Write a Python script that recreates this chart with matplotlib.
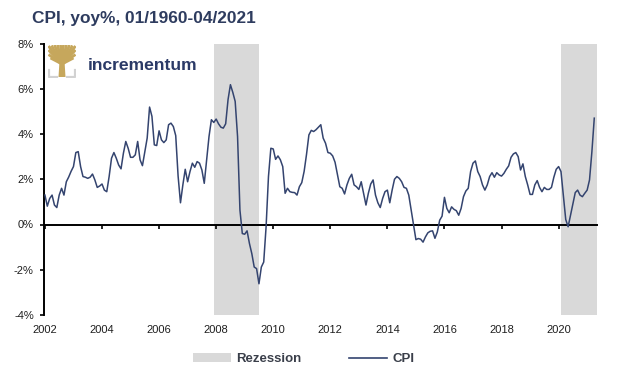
import matplotlib
matplotlib.use("Agg")
import matplotlib.pyplot as plt
from matplotlib.patches import Patch, Polygon
from matplotlib.lines import Line2D
import numpy as np

plt.rcParams['font.family'] = ['Liberation Sans', 'DejaVu Sans']

# ---------------- data ----------------
start_year = 2002
cpi_2002 = [1.30, 0.81, 1.15, 1.30, 0.86, 0.75, 1.30, 1.60, 1.30, 1.89, 2.10, 2.35]
cpi_2003 = [2.56, 3.18, 3.22, 2.56, 2.12, 2.09, 2.04, 2.09, 2.23, 1.97, 1.64, 1.70]
cpi_2004 = [1.79, 1.52, 1.45, 2.12, 2.93, 3.18, 2.93, 2.63, 2.46, 3.15, 3.67, 3.37]
cpi_2005 = [2.97, 2.97, 3.08, 3.67, 2.86, 2.60, 3.22, 3.82, 5.19, 4.78, 3.52, 3.49]
cpi_2006 = [4.14, 3.74, 3.62, 3.74, 4.41, 4.48, 4.33, 3.93, 2.14, 0.96, 1.75, 2.44]
cpi_2007 = [1.89, 2.34, 2.71, 2.53, 2.78, 2.71, 2.41, 1.82, 2.86, 3.89, 4.63, 4.51]
cpi_2008 = [4.66, 4.45, 4.30, 4.26, 4.45, 5.52, 6.18, 5.84, 5.44, 3.89, 0.64, -0.40]
cpi_2009 = [-0.43, -0.28, -0.84, -1.29, -1.88, -1.95, -2.62, -1.88, -1.66, -0.10, 2.12, 3.37]
cpi_2010 = [3.34, 2.88, 3.03, 2.86, 2.56, 1.38, 1.60, 1.45, 1.42, 1.41, 1.30, 1.67]
cpi_2011 = [1.85, 2.35, 3.10, 3.96, 4.16, 4.11, 4.19, 4.30, 4.41, 3.82, 3.59, 3.18]
cpi_2012 = [3.15, 3.03, 2.75, 2.20, 1.67, 1.60, 1.35, 1.75, 2.04, 2.22, 1.75, 1.67]
cpi_2013 = [1.55, 1.89, 1.38, 0.86, 1.38, 1.79, 1.97, 1.30, 0.96, 0.75, 1.15, 1.45]
cpi_2014 = [1.52, 0.96, 1.52, 2.00, 2.12, 2.04, 1.89, 1.64, 1.60, 1.30, 0.64, -0.03]
cpi_2015 = [-0.67, -0.62, -0.65, -0.78, -0.55, -0.37, -0.30, -0.28, -0.61, -0.33, 0.19, 0.37]
cpi_2016 = [1.20, 0.71, 0.52, 0.78, 0.67, 0.61, 0.41, 0.71, 1.23, 1.48, 1.60, 2.34]
cpi_2017 = [2.71, 2.81, 2.34, 2.12, 1.75, 1.52, 1.75, 2.12, 2.29, 2.09, 2.29, 2.19]
cpi_2018 = [2.14, 2.26, 2.44, 2.59, 2.97, 3.12, 3.18, 3.00, 2.41, 2.68, 2.12, 1.75]
cpi_2019 = [1.33, 1.33, 1.75, 1.94, 1.64, 1.45, 1.64, 1.55, 1.55, 1.64, 2.09, 2.44]
cpi_2020 = [2.56, 2.34, 1.30, 0.22, -0.10, 0.41, 0.93, 1.41, 1.52, 1.30, 1.23, 1.38]
cpi_2021 = [1.52, 1.97, 3.22, 4.70]

cpi = (cpi_2002 + cpi_2003 + cpi_2004 + cpi_2005 + cpi_2006 + cpi_2007 + cpi_2008 +
       cpi_2009 + cpi_2010 + cpi_2011 + cpi_2012 + cpi_2013 + cpi_2014 + cpi_2015 +
       cpi_2016 + cpi_2017 + cpi_2018 + cpi_2019 + cpi_2020 + cpi_2021)

# recessions (start month, end month inclusive)
rec_start = [(2007, 12), (2020, 2)]
rec_end = [(2009, 6), (2021, 4)]

year_ticks = list(range(2002, 2021, 2))
y_ticks = [-4, -2, 0, 2, 4, 6, 8]

title = "CPI, yoy%, 01/1960-04/2021"
legend_labels = ["Rezession", "CPI"]

# ---------------- style ----------------
line_color = '#34446f'
rec_color = '#d9d9d9'
title_color = '#2e3c5f'
text_color = '#1e1e1e'

W, H = 621, 374
fig = plt.figure(figsize=(W / 100, H / 100), dpi=100)

ax_l, ax_r, ax_t, ax_b = 43.5, 596.7, 43.5, 315.0
ax = fig.add_axes([ax_l / W, 1 - ax_b / H, (ax_r - ax_l) / W, (ax_b - ax_t) / H])

t = start_year + np.arange(len(cpi)) / 12.0

for (sy, sm), (ey, em) in zip(rec_start, rec_end):
    ax.axvspan(sy + (sm - 1) / 12.0, ey + em / 12.0, color=rec_color, lw=0, zorder=0)

ax.plot(t, cpi, color=line_color, lw=1.1, zorder=3)

ax.set_xlim(2001.95, 2021.335)
ax.set_ylim(-4, 8)

for s in ['top', 'right']:
    ax.spines[s].set_visible(False)
ax.spines['left'].set_linewidth(1.4)
ax.spines['bottom'].set_position(('data', 0))
ax.spines['bottom'].set_linewidth(1.4)
ax.spines['bottom'].set_zorder(2.5)

ax.set_yticks(y_ticks)
ax.set_yticklabels([f"{v}%" for v in y_ticks])
ax.tick_params(axis='y', direction='out', length=3, width=1.2, pad=4,
               labelsize=8, labelcolor=text_color)
ax.set_xticks(year_ticks)
ax.tick_params(axis='x', direction='out', length=3, width=1.2, labelbottom=False)

secax = ax.secondary_xaxis('bottom')
secax.set_xticks(year_ticks)
secax.set_xticklabels([str(y) for y in year_ticks])
secax.tick_params(length=0, pad=7, labelsize=8, labelcolor=text_color)
secax.spines['bottom'].set_visible(False)

# title
fig.text(32 / W, 1 - 23.3 / H, title, fontsize=12.4, fontweight='bold',
         color=title_color, ha='left', va='baseline')

# logo: tree icon
lax = fig.add_axes([48 / W, 1 - 78 / H, 28 / W, 33 / H])
lax.set_xlim(0, 28)
lax.set_ylim(33, 0)
lax.axis('off')
gold = '#c6a75c'
lax.add_patch(Polygon([[10.5, 32], [17.5, 32], [16.5, 16], [11.5, 16]],
                      closed=True, color=gold, lw=0))
for xe, ye in [(0.5, 1.0), (3.5, 0.5), (6.5, 0), (9.5, 0), (12.5, 0), (15.5, 0),
               (18.5, 0), (21.5, 0), (24.5, 0.5), (27.5, 1.0), (0.5, 5), (27.5, 5),
               (0.5, 9.5), (27.5, 9.5), (2.5, 13), (25.5, 13)]:
    lax.plot([14, xe], [19, ye], color=gold, lw=2.0, solid_capstyle='butt')
grey = '#d2d2d2'
lax.plot([0.8, 0.8, 9.0], [25, 31.8, 31.8], color=grey, lw=1.6)
lax.plot([19.0, 27.2, 27.2], [31.8, 31.8, 25], color=grey, lw=1.6)

fig.text(88 / W, 1 - 69.5 / H, "incrementum", fontsize=12.6, fontweight='bold',
         color='#2b3a67', ha='left', va='baseline')

# legend
handles = [Patch(facecolor=rec_color, edgecolor='none'),
           Line2D([], [], color=line_color, lw=1.2)]
leg = fig.legend(handles, legend_labels, loc='center',
                 bbox_to_anchor=(303.5 / W, 1 - 359 / H), ncol=2, frameon=False,
                 handlelength=2.9, handleheight=0.6, handletextpad=0.4,
                 columnspacing=3.6, borderpad=0,
                 prop={'weight': 'bold', 'size': 9.5})
for txt in leg.get_texts():
    txt.set_color('#3a3f4a')

fig.savefig("out.png", dpi=100)
